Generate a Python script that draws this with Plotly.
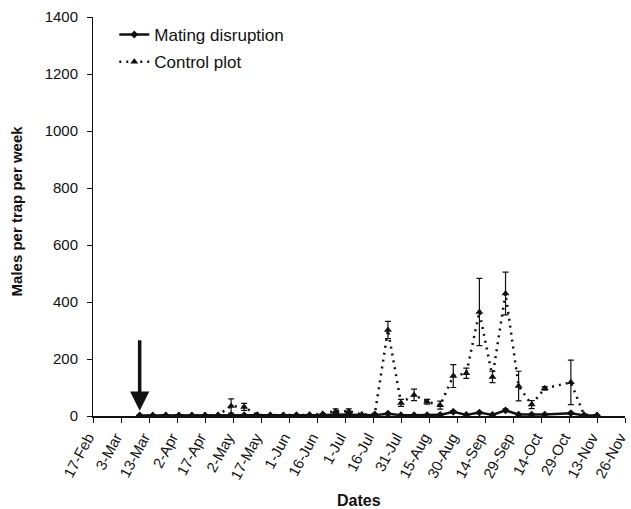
import plotly.graph_objects as go
import datetime as dt

# Weekly sampling dates (2004), 13-Mar to 13-Nov
start = dt.date(2004, 3, 13)
dates = [(start + dt.timedelta(days=7 * i)).isoformat() for i in range(36)]

mating = [2, 2, 2, 2, 2, 2, 2, 3, 3, 3, 2, 2, 3, 3, 3, 5, 5, 3, 3, 8, 3, 3, 3, 4, 15, 4,
          12, 4, 20, 5, 5, 5, None, 10, 2, 2]
mating_err = [0, 0, 0, 0, 0, 0, 0, 0, 0, 0, 0, 0, 0, 0, 0, 2, 2, 0, 0, 3, 0, 0, 0, 0, 4, 0,
              3, 0, 5, 0, 2, 0, None, 3, 0, 0]

control = [2, 2, 2, 2, 2, 2, 3, 35, 32, 3, 3, 3, 3, 4, 8, 17, 17, 5, 8, 302, 46, 74, 50, 38,
           140, 150, 365, 137, 430, 105, 40, 97, None, 118, 5, 2]
control_err = [0, 0, 0, 0, 0, 0, 0, 25, 12, 0, 0, 0, 0, 0, 0, 8, 8, 0, 0, 30, 12, 20, 8, 14,
               40, 18, 118, 20, 75, 52, 14, 6, None, 78, 0, 0]

tick_start = dt.date(2004, 2, 17)
tick_vals = [(tick_start + dt.timedelta(days=15 * i)).isoformat() for i in range(20)]
tick_text = ["17-Feb", "3-Mar", "13-Mar", "2-Apr", "17-Apr", "2-May", "17-May", "1-Jun",
             "16-Jun", "1-Jul", "16-Jul", "31-Jul", "15-Aug", "30-Aug", "14-Sep", "29-Sep",
             "14-Oct", "29-Oct", "13-Nov", "26-Nov"]
y_ticks = [0, 200, 400, 600, 800, 1000, 1200, 1400]

ink = "#111111"
fig = go.Figure()
fig.add_trace(go.Scatter(
    x=dates, y=mating, name="Mating disruption", mode="lines+markers",
    connectgaps=True, legend="legend",
    line=dict(color=ink, width=2.5),
    marker=dict(symbol="diamond", size=6, color=ink),
    error_y=dict(type="data", array=mating_err, color=ink, thickness=1, width=3),
))
fig.add_trace(go.Scatter(
    x=dates, y=control, name="Control plot", mode="lines+markers",
    connectgaps=True, legend="legend2",
    line=dict(color=ink, width=2.5, dash="2px,5px"),
    marker=dict(symbol="triangle-up", size=7, color=ink),
    error_y=dict(type="data", array=control_err, color=ink, thickness=1.2, width=3),
))

fig.add_annotation(
    x=dates[0], y=18, ax=0, ay=-72, xref="x", yref="y",
    showarrow=True, arrowhead=2, arrowsize=1.1, arrowwidth=3.5, arrowcolor=ink, text="",
)

# axis titles
fig.add_annotation(text="<b>Dates</b>", xref="paper", yref="paper", x=0.5, y=-0.213,
                   xanchor="center", yanchor="middle", showarrow=False,
                   font=dict(size=16, color=ink))
fig.add_annotation(text="<b>Males per trap per week</b>", xref="paper", yref="paper",
                   x=-0.143, y=0.515, xanchor="center", yanchor="middle", textangle=-90,
                   showarrow=False, font=dict(size=15, color=ink))

legend_common = dict(xanchor="left", yanchor="middle", bgcolor="rgba(0,0,0,0)",
                     font=dict(size=17, color=ink), itemwidth=30)

end = (dt.date(2004, 11, 28) + dt.timedelta(hours=8)).isoformat()

fig.update_layout(
    width=631, height=509,
    margin=dict(l=93, r=6, t=17, b=93),
    paper_bgcolor="white", plot_bgcolor="white",
    font=dict(family="Liberation Sans, Arial, sans-serif", size=15, color=ink),
    showlegend=True,
    legend=dict(x=0.04, y=0.955, **legend_common),
    legend2=dict(x=0.04, y=0.887, **legend_common),
    xaxis=dict(
        type="date", automargin=False,
        range=[tick_vals[0], end],
        tickmode="array", tickvals=tick_vals, ticktext=tick_text,
        tickangle=-62, ticks="outside", ticklen=5, tickcolor=ink,
        ticklabeloverflow="allow", ticklabelshift=-5,
        showline=True, linecolor=ink, linewidth=1.5,
        showgrid=False, zeroline=False,
        tickfont=dict(size=15),
    ),
    yaxis=dict(
        range=[0, 1400], automargin=False,
        tickmode="array", tickvals=y_ticks,
        ticks="outside", ticklen=5, tickcolor=ink, ticklabelstandoff=6,
        showline=True, linecolor=ink, linewidth=1,
        showgrid=False, zeroline=False,
        tickfont=dict(size=15),
    ),
)

fig.write_html("out.html", config={"displayModeBar": False},
               post_script="document.body.style.margin='0';")
